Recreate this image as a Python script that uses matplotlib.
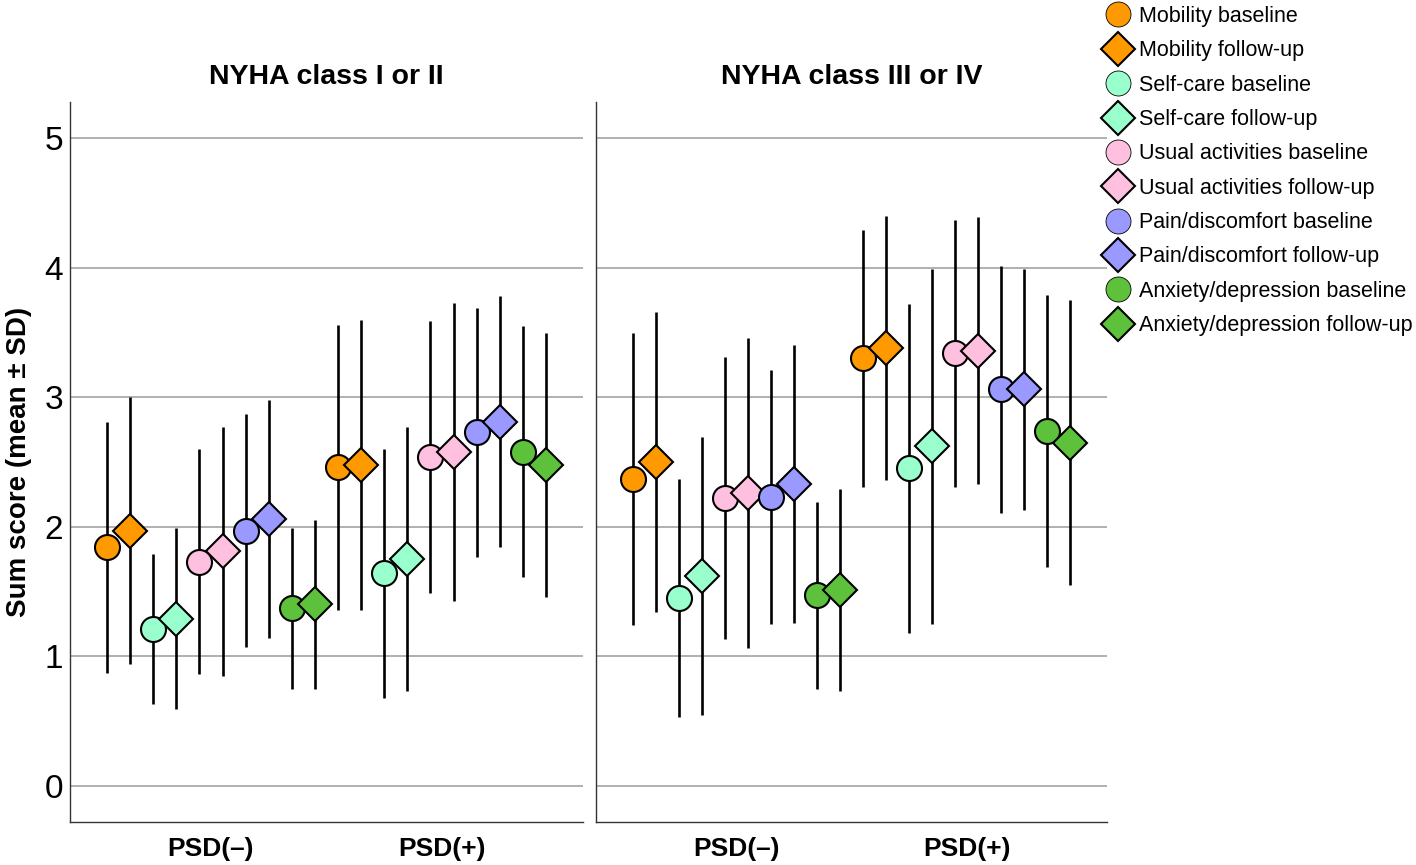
import numpy as np
import matplotlib
matplotlib.use("Agg")
import matplotlib.pyplot as plt
from matplotlib.lines import Line2D

plt.rcParams['font.family'] = ['Liberation Sans', 'DejaVu Sans']

# data
panels = ["NYHA class I or II", "NYHA class III or IV"]
groups = ["PSD(\u2013)", "PSD(+)"]
dimensions = ["Mobility", "Self-care", "Usual activities", "Pain/discomfort", "Anxiety/depression"]
times = ["baseline", "follow-up"]
colors = ["#ff9900", "#99ffcc", "#ffc0e0", "#9999ff", "#5ec13c"]

# order per group: dim1 base, dim1 fu, dim2 base, ...
mean_1_neg = [1.84, 1.97, 1.21, 1.29, 1.73, 1.81, 1.97, 2.06, 1.37, 1.40]
sd_1_neg = [0.97, 1.03, 0.58, 0.70, 0.87, 0.96, 0.90, 0.92, 0.62, 0.65]
mean_1_pos = [2.46, 2.48, 1.64, 1.75, 2.54, 2.58, 2.73, 2.81, 2.58, 2.48]
sd_1_pos = [1.10, 1.12, 0.96, 1.02, 1.05, 1.15, 0.96, 0.97, 0.97, 1.02]
mean_3_neg = [2.37, 2.50, 1.45, 1.62, 2.22, 2.26, 2.23, 2.33, 1.47, 1.51]
sd_3_neg = [1.13, 1.16, 0.92, 1.07, 1.09, 1.20, 0.98, 1.07, 0.72, 0.78]
mean_3_pos = [3.30, 3.38, 2.45, 2.62, 3.34, 3.36, 3.06, 3.06, 2.74, 2.65]
sd_3_pos = [0.99, 1.02, 1.27, 1.37, 1.03, 1.03, 0.95, 0.93, 1.05, 1.10]

means = [[mean_1_neg, mean_1_pos], [mean_3_neg, mean_3_pos]]
sds = [[sd_1_neg, sd_1_pos], [sd_3_neg, sd_3_pos]]

W, H = 1416, 865
fig = plt.figure(figsize=(W / 100, H / 100), dpi=100)
ax_pos = [(70, 583), (596, 1107)]

offsets = (np.arange(10) - 4.5) * 0.1

for p in range(2):
    x0, x1 = ax_pos[p]
    ax = fig.add_axes([x0 / W, (H - 822) / H, (x1 - x0) / W, 720 / H])
    for g in range(2):
        for k in range(10):
            d = k // 2
            t = k % 2
            x = g + offsets[k]
            m = means[p][g][k]
            s = sds[p][g][k]
            z = 3 + k * 2
            ax.plot([x, x], [m - s, m + s], color="black", lw=1.9, zorder=z, solid_capstyle="butt")
            ax.plot(x, m, marker="o" if t == 0 else "D", ms=18 if t == 0 else 17.3,
                    mfc=colors[d], mec="black", mew=1.5, zorder=z + 1, ls="none")

    ax.set_xlim(-0.61, 1.61)
    ax.set_ylim(-0.28, 5.28)
    ax.set_yticks(range(6))
    ax.set_xticks([0, 1])
    ax.set_xticklabels(groups, fontsize=19, fontweight="bold")
    ax.grid(axis="y", color="#aaaaaa", lw=1.3)
    ax.set_axisbelow(True)
    ax.tick_params(axis="y", length=0, labelsize=24, pad=5)
    ax.tick_params(axis="x", length=0, pad=11)
    for sp in ["top", "right"]:
        ax.spines[sp].set_visible(False)
    for sp in ["left", "bottom"]:
        ax.spines[sp].set_color("#333333")
        ax.spines[sp].set_linewidth(1.0)
    ax.set_title(panels[p], fontsize=20.5, fontweight="bold", pad=13)
    if p == 0:
        ax.set_ylabel("Sum score (mean \u00b1 SD)", fontsize=20, fontweight="bold", labelpad=9)
    else:
        ax.set_yticklabels([])

# legend on the right
handles = []
labels = []
for d in range(5):
    for t in range(2):
        handles.append(Line2D([], [], ls="none", marker="o" if t == 0 else "D",
                              ms=18 if t == 0 else 17.3, mfc=colors[d], mec="black",
                              mew=1.5 if t == 1 else 0.6))
        labels.append(dimensions[d] + " " + times[t])

fig.legend(handles, labels, loc="upper left", bbox_to_anchor=(1107 / W, 1 - 6 / H),
           frameon=False, fontsize=15.5, handlelength=1.0, handletextpad=0.49,
           labelspacing=0.62, borderaxespad=0, borderpad=0)

fig.savefig("out.png", dpi=100)
